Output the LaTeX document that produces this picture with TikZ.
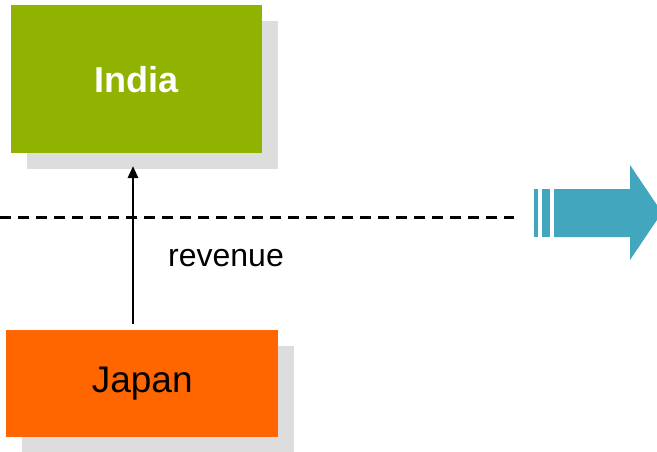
\documentclass[tikz,border=0pt]{standalone}
\usepackage{fontspec}
\setmainfont{Liberation Sans}
\usetikzlibrary{arrows.meta}
\definecolor{indiagreen}{HTML}{8FB300}
\definecolor{japanorange}{HTML}{FF6600}
\definecolor{shadowgray}{HTML}{DDDDDD}
\definecolor{arrowteal}{HTML}{42A6BF}
\begin{document}
\begin{tikzpicture}[x=1pt,y=-1pt,
  countrybox/.style={draw=none,inner sep=0pt,anchor=north west},
]
\useasboundingbox (0,0) rectangle (657,451);
\clip (0,0) rectangle (657,451);
% India
\fill[shadowgray] (27,21) rectangle (278,169);
\node[countrybox,fill=indiagreen,minimum width=251pt,minimum height=148pt,
  font=\fontsize{36}{43}\selectfont\bfseries,text=white] (india) at (11,5) {India};
% Japan
\fill[shadowgray] (22,346) rectangle (294,452);
\node[countrybox,fill=japanorange,minimum width=272pt,minimum height=107pt,
  font=\fontsize{37}{44}\selectfont,text=black] (japan) at (6,330) {Japan};
% dashed line
\coordinate (dl) at (0,217);
\coordinate (dr) at (514,217);
\draw[line width=3pt,dash pattern=on 11pt off 7pt] (dl) -- (dr);
% revenue arrow
\coordinate (arrbot) at (133,324);
\coordinate (arrtop) at (133,166);
\draw[line width=2.8pt,-{Stealth[length=12pt,width=10pt,inset=0pt]}] (arrbot) -- (arrtop);
\node[font=\fontsize{32}{38}\selectfont,anchor=center] (rev) at (226,258) {revenue};
% big arrow
\fill[arrowteal] (534,189) rectangle (538,237);
\fill[arrowteal] (542,189) rectangle (550,237);
\fill[arrowteal] (554,189) -- (630,189) -- (630,165) -- (662,212.5) -- (630,260) -- (630,237) -- (554,237) -- cycle;
\end{tikzpicture}
\end{document}
